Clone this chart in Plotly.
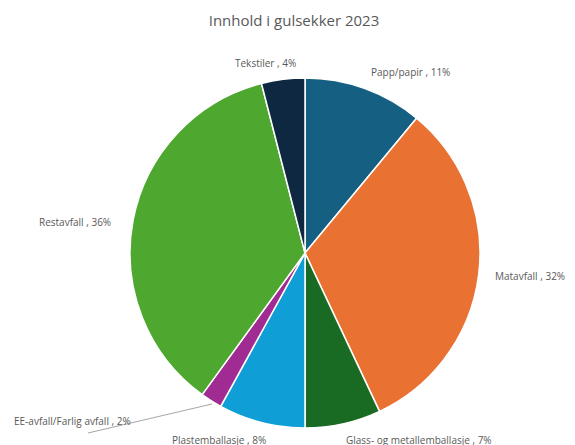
import plotly.graph_objects as go

categories = ["Papp/papir", "Matavfall", "Glass- og metallemballasje", "Plastemballasje",
              "EE-avfall/Farlig avfall", "Restavfall", "Tekstiler"]
values = [11, 32, 7, 8, 2, 36, 4]
colors = ["#156082", "#E97132", "#196B24", "#0F9ED5", "#A02B93", "#4EA72E", "#0E2841"]

W, H = 575, 445
OFF = 8  # page body margin compensation

def fx(px):
    return (px - OFF) / W

def fy(py):
    return 1 - (py - OFF) / H

fig = go.Figure(go.Pie(
    labels=categories, values=values, sort=False, direction="clockwise", rotation=0,
    marker=dict(colors=colors, line=dict(color="white", width=1.5)),
    textinfo="none", hoverinfo="label+percent", showlegend=False,
    domain=dict(x=[fx(130), fx(480)], y=[fy(428), fy(78)]),
))

label_pos = {
    "Papp/papir": (410, 72),
    "Matavfall": (530, 276),
    "Glass- og metallemballasje": (419, 440),
    "Plastemballasje": (219, 440),
    "EE-avfall/Farlig avfall": (72, 421),
    "Restavfall": (75, 222),
    "Tekstiler": (265, 63),
}
for cat, v in zip(categories, values):
    px, py = label_pos[cat]
    fig.add_annotation(x=fx(px), y=fy(py), xref="paper", yref="paper",
                       xanchor="center", yanchor="middle",
                       text=f"{cat} , {v}%", showarrow=False,
                       font=dict(size=10, color="#595959", family="Open Sans"))

fig.add_shape(type="line", xref="paper", yref="paper",
              x0=fx(212), y0=fy(404), x1=fx(88), y1=fy(433),
              line=dict(color="#A6A6A6", width=1))

fig.update_layout(
    width=W, height=H,
    margin=dict(l=0, r=0, t=0, b=0),
    paper_bgcolor="white", plot_bgcolor="white",
    title=dict(text="Innhold i gulsekker 2023", x=fx(294), xanchor="center",
               y=fy(21), yanchor="middle",
               font=dict(size=15, color="#595959", family="Open Sans")),
)
fig.write_html("out.html")
